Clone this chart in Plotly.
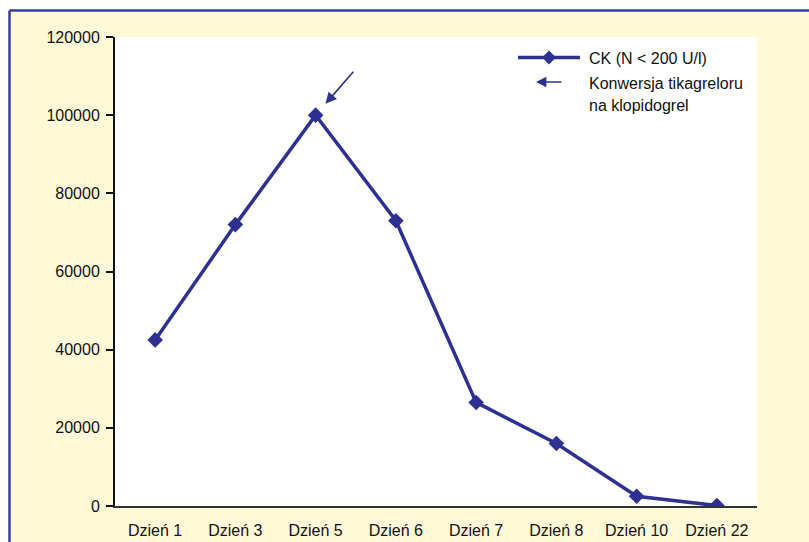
import plotly.graph_objects as go

# CK activity over the hospital stay
days = ["Dzień 1", "Dzień 3", "Dzień 5", "Dzień 6", "Dzień 7", "Dzień 8", "Dzień 10", "Dzień 22"]
ck_values = [42500, 72000, 100000, 73000, 26500, 16000, 2500, 100]
y_ticks = [0, 20000, 40000, 60000, 80000, 100000, 120000]

series_name = "CK (N < 200 U/l)"
arrow_label = ["Konwersja tikagreloru", "na klopidogrel"]
switch_day = "Dzień 5"

W, H = 809, 542
L, R, T, B = 115, 52, 37, 36
PW, PH = W - L - R, H - T - B

NAVY = "#2E3192"
FRAME = "#3B3E9E"
CREAM = "#FFF9D8"
FONT = "Liberation Sans, Arial, sans-serif"
FS = 16


def px(x):
    return (x - L) / PW


def py(y):
    return (H - B - y) / PH


fig = go.Figure()
fig.add_trace(go.Scatter(
    x=days, y=ck_values, mode="lines+markers", name=series_name,
    line=dict(color=NAVY, width=3.5),
    marker=dict(symbol="diamond", size=12, color=NAVY),
    showlegend=False,
))

shapes = [
    # white margin outside the framed panel
    dict(type="rect", xref="paper", yref="paper", x0=px(-5), x1=px(W + 5), y0=py(9.5), y1=py(-5),
         fillcolor="white", line=dict(width=0), layer="below"),
    dict(type="rect", xref="paper", yref="paper", x0=px(-5), x1=px(8.5), y0=py(H + 5), y1=py(-5),
         fillcolor="white", line=dict(width=0), layer="below"),
    # frame of the panel
    dict(type="line", xref="paper", yref="paper", x0=px(9.5), x1=px(W + 5), y0=py(10.5), y1=py(10.5),
         line=dict(color=FRAME, width=2.5)),
    dict(type="line", xref="paper", yref="paper", x0=px(9.5), x1=px(9.5), y0=py(10.5), y1=py(H + 5),
         line=dict(color=FRAME, width=2.5)),
    # legend sample for the series
    dict(type="line", xref="paper", yref="paper", x0=px(518), x1=px(580), y0=py(57.5), y1=py(57.5),
         line=dict(color=NAVY, width=3.5)),
    dict(type="path", xref="paper", yref="paper",
         path=(f"M {px(549)} {py(50.5)} L {px(556)} {py(57.5)} "
               f"L {px(549)} {py(64.5)} L {px(542)} {py(57.5)} Z"),
         fillcolor=NAVY, line=dict(color=NAVY, width=0)),
]

annotations = [
    # arrow marking the drug switch
    dict(x=switch_day, y=ck_values[days.index(switch_day)], xref="x", yref="y",
         ax=39, ay=-45, axref="pixel", ayref="pixel", text="", showarrow=True,
         arrowhead=2, arrowsize=1.4, arrowwidth=1.6, arrowcolor=NAVY, standoff=15),
    # legend arrow sample
    dict(x=px(536), y=py(82), xref="paper", yref="paper", ax=27, ay=0,
         text="", showarrow=True, arrowhead=2, arrowsize=1.3, arrowwidth=1.6, arrowcolor=NAVY),
    dict(x=px(587), y=py(58), xref="paper", yref="paper", text=series_name, showarrow=False,
         xanchor="left", yanchor="middle", font=dict(family=FONT, size=FS, color="#111")),
    dict(x=px(587), y=py(83), xref="paper", yref="paper", text=arrow_label[0], showarrow=False,
         xanchor="left", yanchor="middle", font=dict(family=FONT, size=FS, color="#111")),
    dict(x=px(587), y=py(105), xref="paper", yref="paper", text=arrow_label[1], showarrow=False,
         xanchor="left", yanchor="middle", font=dict(family=FONT, size=FS, color="#111")),
]

fig.update_layout(
    width=W, height=H,
    margin=dict(l=L, r=R, t=T, b=B, pad=0),
    paper_bgcolor=CREAM, plot_bgcolor="white",
    font=dict(family=FONT, size=FS, color="#111"),
    shapes=shapes, annotations=annotations,
    xaxis=dict(type="category", range=[-0.5, len(days) - 0.5], showgrid=False, zeroline=False,
               showline=True, linecolor="#333", linewidth=2, ticks="", ticklabelstandoff=9,
               automargin=False, tickfont=dict(family=FONT, size=FS, color="#111")),
    yaxis=dict(range=[0, 120000], tickvals=y_ticks, ticktext=[str(v) for v in y_ticks],
               showgrid=False, zeroline=False, showline=True, linecolor="#111", linewidth=2,
               ticks="outside", ticklen=7, tickwidth=2, tickcolor="#111", ticklabelstandoff=3,
               automargin=False, tickfont=dict(family=FONT, size=FS, color="#111")),
)

fig.write_html("out.html")
